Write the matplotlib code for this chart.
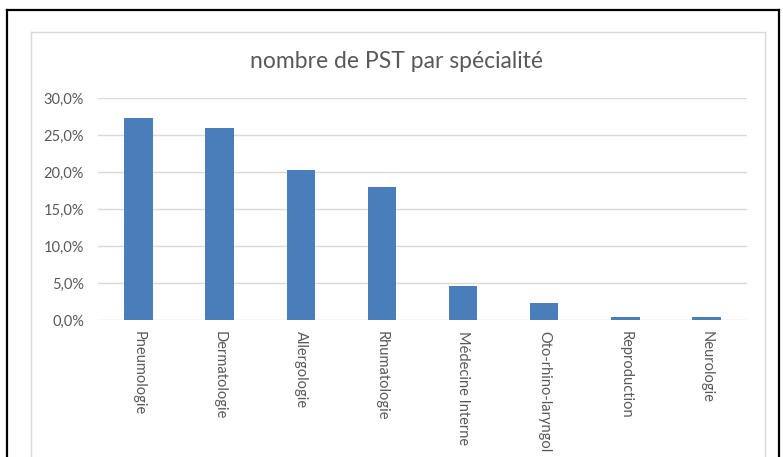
import matplotlib
matplotlib.use('Agg')
import matplotlib.pyplot as plt
from matplotlib.lines import Line2D
from matplotlib.ticker import FuncFormatter

specialites = ['Pneumologie', 'Dermatologie', 'Allergologie', 'Rhumatologie',
               'Médecine Interne', 'Oto-rhino-laryngol', 'Reproduction', 'Neurologie']
parts = [0.273, 0.260, 0.203, 0.180, 0.046, 0.0225, 0.0045, 0.0045]
yticks = [0.0, 0.05, 0.10, 0.15, 0.20, 0.25, 0.30]

plt.rcParams['font.family'] = ['Lato', 'DejaVu Sans']
W, H = 783, 457
fig = plt.figure(figsize=(W / 100, H / 100), dpi=100)

# cadres (noir extérieur, gris intérieur)
def px(x, y):
    return x / W, 1 - y / H

for (x0, y0), (x1, y1), c, lw in [
        ((7, 10), (779, 10), 'black', 1.6), ((7, 10), (7, 460), 'black', 1.6),
        ((779, 10), (779, 460), 'black', 1.6),
        ((31, 32), (765, 32), '#d9d9d9', 1.0), ((31, 32), (31, 460), '#d9d9d9', 1.0),
        ((765, 32), (765, 460), '#d9d9d9', 1.0)]:
    a, b = px(x0, y0)
    c2, d = px(x1, y1)
    fig.add_artist(Line2D([a, c2], [b, d], color=c, lw=lw, transform=fig.transFigure))

ax = fig.add_axes([98 / W, 1 - 320 / H, (747 - 98) / W, (320 - 98) / H])
x = range(len(specialites))
ax.bar(x, parts, width=0.35, color='#4a7ebb', zorder=3)
ax.set_xlim(-0.5, len(specialites) - 0.5)
ax.set_ylim(0, 0.30)
ax.set_yticks(yticks)
ax.yaxis.set_major_formatter(FuncFormatter(lambda v, p: ('%.1f%%' % (v * 100)).replace('.', ',')))
ax.grid(axis='y', color='#d9d9d9', lw=1, zorder=0)
for s in ax.spines.values():
    s.set_visible(False)
ax.tick_params(axis='both', length=0, colors='#595959')
ax.tick_params(axis='y', pad=10, labelsize=10.5)
ax.tick_params(axis='x', pad=8, labelsize=10.5)
ax.set_xticks(list(x))
ax.set_xticklabels(specialites, rotation=270, ha='center', va='top')

fig.text(397 / W, 1 - 62 / H, 'nombre de PST par spécialité', ha='center', va='center',
         fontsize=16.5, color='#595959')

fig.savefig('out.png', dpi=100)
